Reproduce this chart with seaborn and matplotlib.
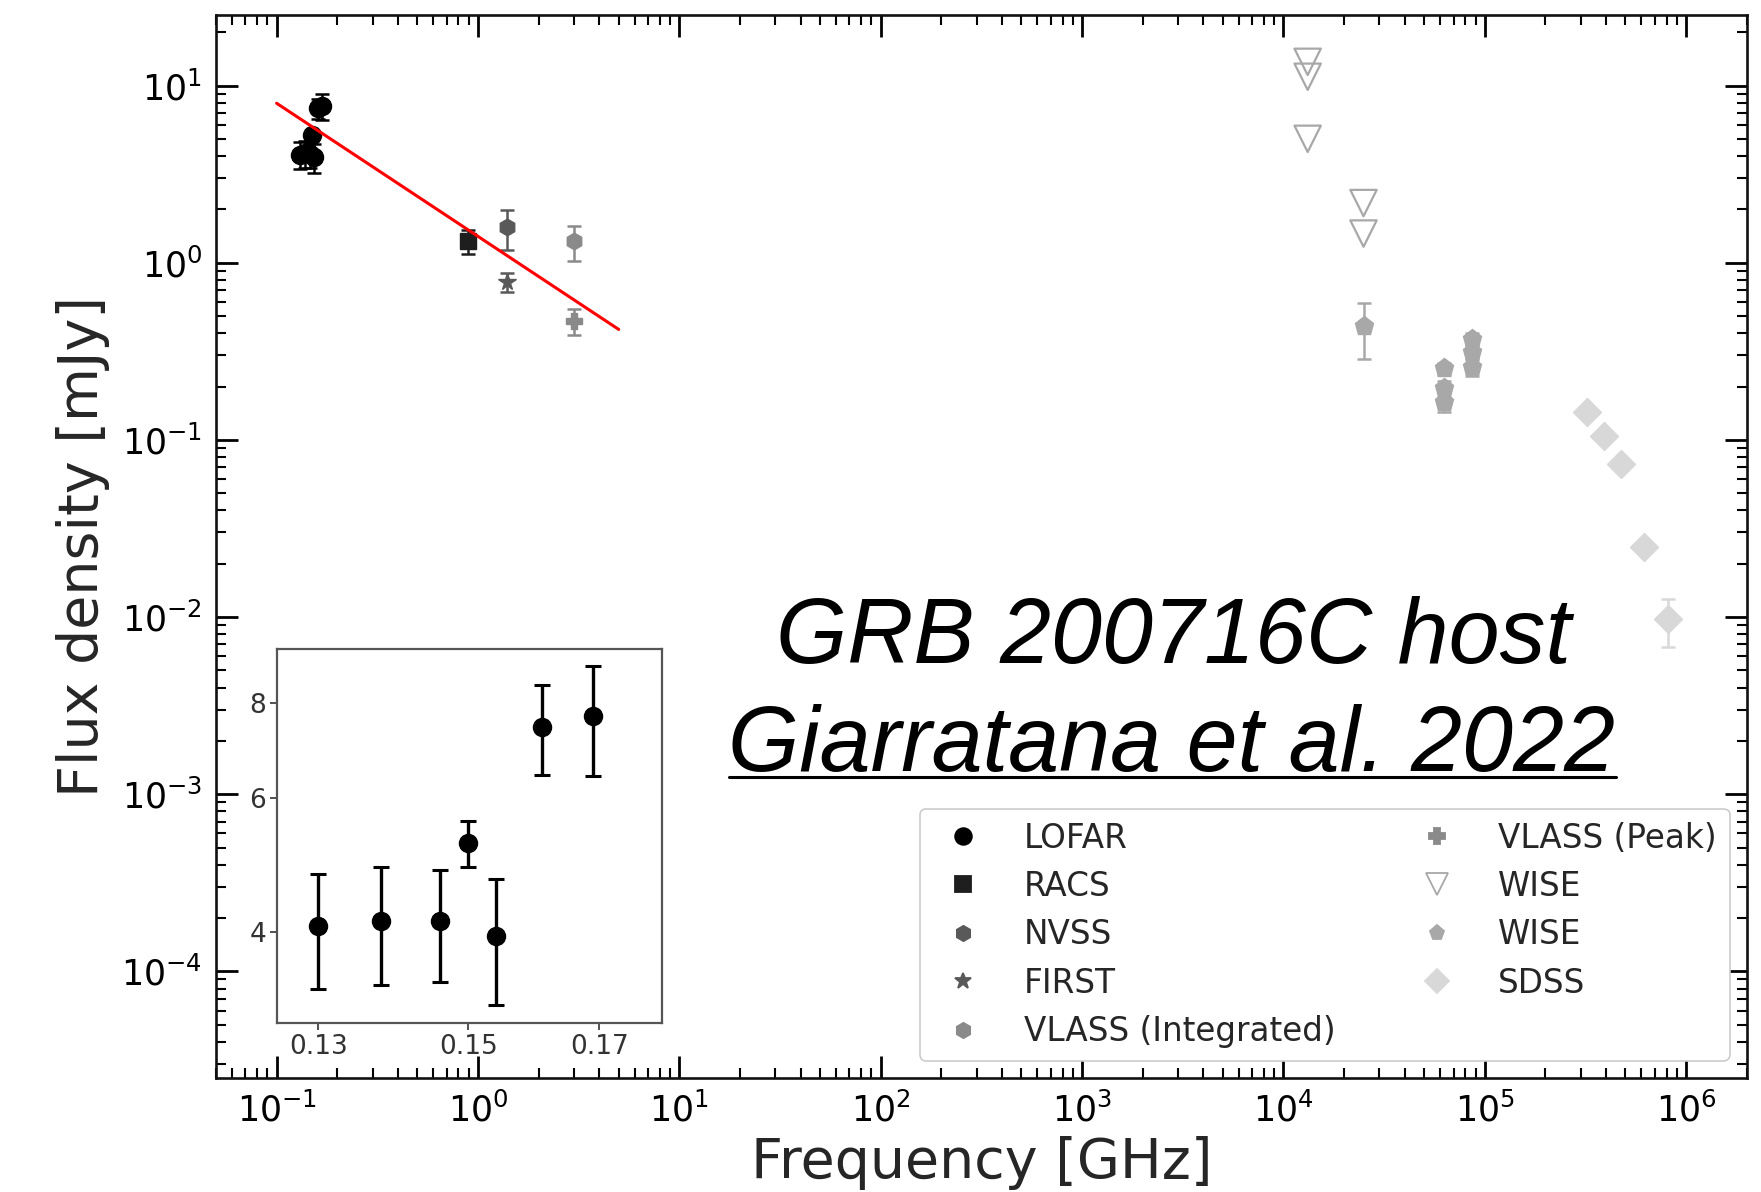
import matplotlib
matplotlib.use("Agg")
import matplotlib.pyplot as plt
from matplotlib.lines import Line2D
from matplotlib.ticker import FixedLocator, NullLocator, FixedFormatter
import numpy as np
import pandas as pd
import seaborn as sns

# ---------------- data (frequency in GHz, flux density in mJy) ----------------
lofar_freq = [0.130, 0.138, 0.146, 0.150, 0.154, 0.161, 0.169]
lofar_flux = [4.07, 4.14, 4.13, 5.23, 3.95, 7.43, 7.68]
lofar_err = [0.70, 0.73, 0.69, 0.36, 0.74, 1.00, 1.27]

racs_freq = [0.8875]
racs_flux = [1.32]
racs_err = [0.20]

nvss_freq = [1.4]
nvss_flux = [1.58]
nvss_err = [0.40]

first_freq = [1.4]
first_flux = [0.78]
first_err = [0.10]

vlass_int_freq = [3.0]
vlass_int_flux = [1.32]
vlass_int_err = [0.30]

vlass_peak_freq = [3.0]
vlass_peak_flux = [0.47]
vlass_peak_err = [0.08]

wise_ul_freq = [1.32e4, 1.32e4, 1.32e4, 2.5e4, 2.5e4]
wise_ul_flux = [13.6, 11.2, 5.0, 2.17, 1.46]

wise_freq = [2.5e4, 6.3e4, 6.3e4, 6.3e4, 8.6e4, 8.6e4, 8.6e4]
wise_flux = [0.44, 0.253, 0.195, 0.164, 0.373, 0.314, 0.258]
wise_err = [0.155, 0.02, 0.02, 0.02, 0.03, 0.03, 0.03]

sdss_freq = [3.22e5, 3.89e5, 4.75e5, 6.2e5, 8.15e5]
sdss_flux = [0.144, 0.105, 0.0728, 0.0248, 0.0097]
sdss_err = [0.004, 0.003, 0.003, 0.001, 0.0029]

# power-law fit to the radio points (straight line in log-log space)
fit_freq = [0.1, 5.0]
fit_flux = [7.94, 0.42]

# ---------------- style ----------------
sns.set_theme(style="ticks")
plt.rcParams.update({
    "font.family": ["DejaVu Sans"],
    "axes.edgecolor": "#111111",
    "axes.linewidth": 1.9,
    "xtick.color": "black",
    "ytick.color": "black",
})

fig = plt.figure(figsize=(17.61, 11.92), dpi=100)
ax = fig.add_axes([216 / 1761, 1 - 1078 / 1192, 1530.7 / 1761, 1063 / 1192])

C_LOFAR = "black"
C_RACS = "#1e1e1e"
C_NVSS = "#595959"
C_FIRST = "#595959"
C_VLASS = "#8a8a8a"
C_WISE_UL = "#a8a8a8"
C_WISE = "#a8a8a8"
C_SDSS = "#d8d8d8"

ekw = dict(linestyle="none", capsize=5, elinewidth=1.8, capthick=1.8)

ax.errorbar(lofar_freq, lofar_flux, yerr=lofar_err, fmt="o", ms=13,
            color=C_LOFAR, zorder=3, **ekw)
ax.errorbar(racs_freq, racs_flux, yerr=racs_err, fmt="s", ms=12,
            color=C_RACS, zorder=3, **ekw)
ax.errorbar(nvss_freq, nvss_flux, yerr=nvss_err, fmt="h", ms=12,
            color=C_NVSS, zorder=3, **ekw)
ax.errorbar(first_freq, first_flux, yerr=first_err, fmt="*", ms=13,
            color=C_FIRST, zorder=3, **ekw)
ax.errorbar(vlass_int_freq, vlass_int_flux, yerr=vlass_int_err, fmt="h", ms=12,
            color=C_VLASS, zorder=3, **ekw)
ax.errorbar(vlass_peak_freq, vlass_peak_flux, yerr=vlass_peak_err, fmt="P", ms=12,
            color=C_VLASS, zorder=3, **ekw)
ax.errorbar(wise_freq, wise_flux, yerr=wise_err, fmt="p", ms=14,
            color=C_WISE, zorder=3, **ekw)
ax.errorbar(sdss_freq, sdss_flux, yerr=sdss_err, fmt="D", ms=14,
            color=C_SDSS, zorder=3, **ekw)

# WISE upper limits as open triangles
ul = pd.DataFrame({"freq": wise_ul_freq, "flux": wise_ul_flux})
sns.scatterplot(data=ul, x="freq", y="flux", marker="v", s=19 ** 2,
                facecolor="none", edgecolor=C_WISE_UL, linewidth=1.6,
                ax=ax, zorder=3)

# spectral fit
fit = pd.DataFrame({"freq": fit_freq, "flux": fit_flux})
sns.lineplot(data=fit, x="freq", y="flux", color="red", lw=2.2, ax=ax, zorder=4)

ax.set_xscale("log")
ax.set_yscale("log")
ax.set_xlim(0.05, 2e6)
ax.set_ylim(2.5e-5, 25)

ax.tick_params(which="both", direction="in", top=True, right=True)
ax.tick_params(which="major", length=16, width=2, labelsize=25, pad=10)
ax.tick_params(which="minor", length=7, width=1.5)

ax.set_xlabel("Frequency [GHz]", fontsize=40, labelpad=6)
ax.set_ylabel("Flux density [mJy]", fontsize=40, labelpad=8)

# legend with marker-only handles
def handle(marker, color, ms, fill=True):
    return Line2D([], [], linestyle="none", marker=marker, markersize=ms,
                  markerfacecolor=color if fill else "none",
                  markeredgecolor=color, markeredgewidth=1.3)

handles = [
    handle("o", C_LOFAR, 12),
    handle("s", C_RACS, 11),
    handle("h", C_NVSS, 11),
    handle("*", C_FIRST, 12),
    handle("h", C_VLASS, 11),
    handle("P", C_VLASS, 11),
    handle("v", C_WISE_UL, 16, fill=False),
    handle("p", C_WISE, 11),
    handle("D", C_SDSS, 12),
]
labels = ["LOFAR", "RACS", "NVSS", "FIRST", "VLASS (Integrated)",
          "VLASS (Peak)", "WISE", "WISE", "SDSS"]
leg = ax.legend(handles, labels, ncol=2, loc="lower right",
                bbox_to_anchor=(0.9888, 0.016), borderaxespad=0,
                fontsize=23.5, frameon=True, framealpha=1, edgecolor="#cccccc",
                fancybox=True, handlelength=1.84, handletextpad=0.95,
                labelspacing=0.47, columnspacing=2.18, borderpad=0.4)
leg.get_frame().set_linewidth(1.2)

# annotation text
fig.text(1174 / 1761, 1 - 663 / 1192, "GRB 200716C host", ha="center",
         va="baseline", fontsize=66, style="italic",
         family=["Liberation Sans"], color="black")
ref = fig.text(1172 / 1761, 1 - 771 / 1192, "Giarratana et al. 2022",
               ha="center", va="baseline", fontsize=66, style="italic",
               family=["Liberation Sans"], color="black")

# inset with the LOFAR points
axin = fig.add_axes([277.3 / 1761, 1 - 1022.7 / 1192,
                     384.4 / 1761, 373.4 / 1192])
axin.errorbar(lofar_freq, lofar_flux, yerr=lofar_err, fmt="o", ms=13,
              color="black", linestyle="none", capsize=6, elinewidth=2.4,
              capthick=2.2)
axin.set_xscale("log")
axin.set_yscale("log")
axin.set_xlim(0.125, 0.1804)
axin.set_ylim(3.04, 9.4)
inset_xticks = [0.13, 0.15, 0.17]
inset_yticks = [4, 6, 8]
axin.xaxis.set_major_locator(FixedLocator(inset_xticks))
axin.xaxis.set_major_formatter(FixedFormatter([f"{v:.2f}" for v in inset_xticks]))
axin.xaxis.set_minor_locator(NullLocator())
axin.yaxis.set_major_locator(FixedLocator(inset_yticks))
axin.yaxis.set_major_formatter(FixedFormatter([str(v) for v in inset_yticks]))
axin.yaxis.set_minor_locator(NullLocator())
axin.tick_params(which="major", direction="out", length=5, width=1.2,
                 labelsize=19, pad=3, colors="#333333")
for s in axin.spines.values():
    s.set_linewidth(1.6)
    s.set_color("#555555")
axin.set_facecolor("white")

# underline for the reference line
fig.canvas.draw()
bb = ref.get_window_extent(fig.canvas.get_renderer())
W = fig.bbox.width
uy = (1192 - 777) / 1192
fig.add_artist(Line2D([bb.x0 / W, bb.x1 / W], [uy, uy], color="black", lw=2.2))

fig.savefig("out.png", dpi=100)
